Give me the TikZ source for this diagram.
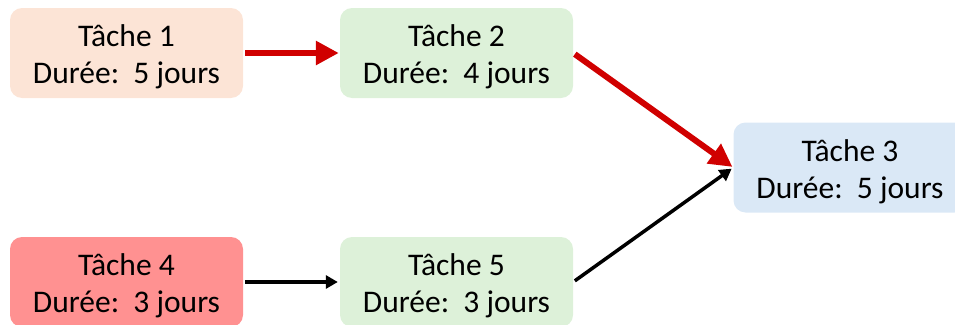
\documentclass[tikz,border=0pt]{standalone}
\usepackage{fontspec}
\setmainfont{Carlito}
\usetikzlibrary{arrows.meta}
\definecolor{peach}{HTML}{FCE4D6}
\definecolor{lgreen}{HTML}{DDF1D9}
\definecolor{lblue}{HTML}{DAE8F6}
\definecolor{rose}{HTML}{FF9191}
\definecolor{darr}{HTML}{D00000}
\tikzset{
  taskbox/.style={rounded corners=12pt, minimum width=233pt, minimum height=90pt, inner sep=0pt, draw=none},
  tasktxt/.style={font=\fontsize{31.5}{37}\selectfont, inner sep=0pt, anchor=base},
  crit/.style={draw=darr, line width=6pt, -{Triangle[length=23pt,width=23pt]}, shorten <=2pt, shorten >=1pt},
  norm/.style={draw=black, line width=3.5pt, -{Triangle[length=12pt,width=13pt]}, shorten <=2pt, shorten >=2pt}
}
\begin{document}
\begin{tikzpicture}[x=1pt,y=-1pt]
\useasboundingbox (0,0) rectangle (955,324);
\begin{scope}
\clip (0,0) rectangle (955,324);
\node[taskbox, fill=peach] (t1) at (126.5,53) {};
\node[taskbox, fill=lgreen] (t2) at (456.5,53) {};
\node[taskbox, fill=lblue] (t3) at (850,167.5) {};
\node[taskbox, fill=rose] (t4) at (126.5,282) {};
\node[taskbox, fill=lgreen] (t5) at (456.5,282) {};
\end{scope}
\foreach \n/\k/\d in {t1/1/5, t2/2/4, t3/3/5, t4/4/3, t5/5/3}{
  \node[tasktxt] (\n a) at ([yshift=-39pt]\n.north) {Tâche \k};
  \node[tasktxt] (\n b) at ([yshift=-76pt]\n.north) {Durée:\ \ \d\ jours};
}
\draw[crit] (t1.east) -- (t2.west);
\draw[crit] (t2.east) -- (t3.west);
\draw[norm] (t4.east) -- (t5.west);
\draw[norm] (t5.east) -- (t3.west);
\end{tikzpicture}
\end{document}
